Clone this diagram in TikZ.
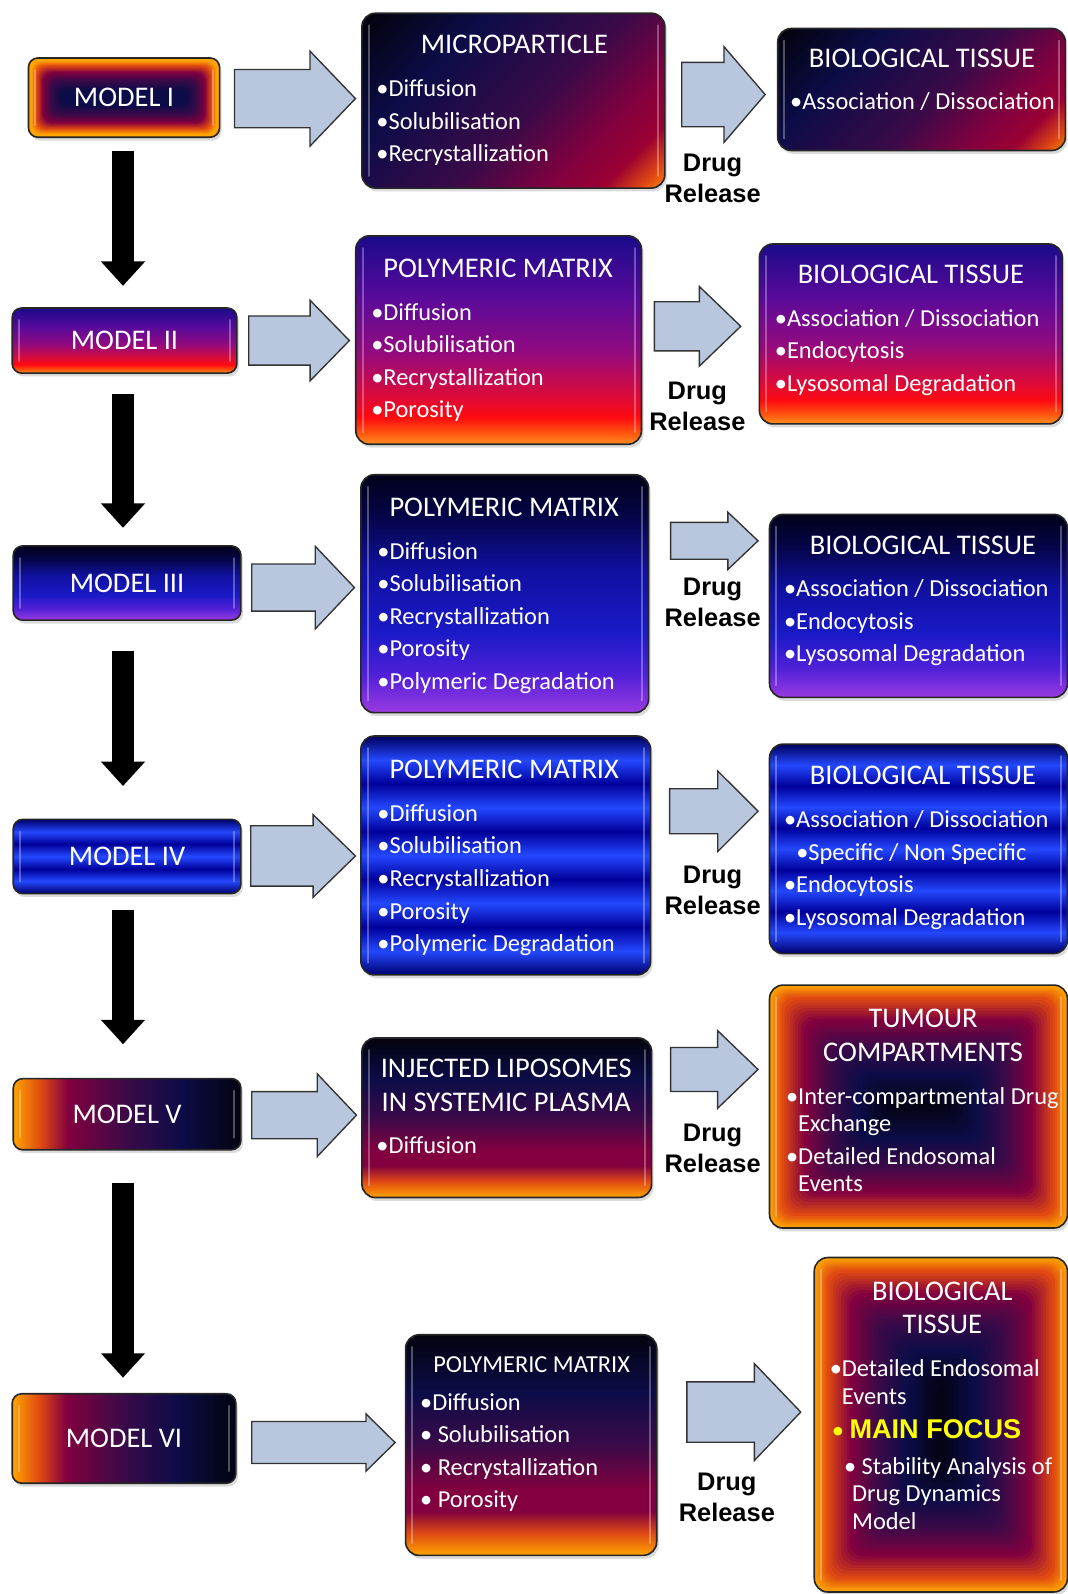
\documentclass[tikz,border=0pt]{standalone}
\usepackage{fontspec}
\setmainfont{Carlito}
\newfontfamily\arialfont{Liberation Sans}
\usetikzlibrary{shapes.arrows,shadows,arrows.meta}

% palette
\definecolor{fblack}{HTML}{03030F}
\definecolor{fnavy}{HTML}{0C0C48}
\definecolor{fpurple}{HTML}{3A0A48}
\definecolor{fcrim}{HTML}{82003F}
\definecolor{fred}{HTML}{E04A12}
\definecolor{forange}{HTML}{FFA400}
\definecolor{vr0}{HTML}{1A0A8A}
\definecolor{vr1}{HTML}{5A0A9A}
\definecolor{vr2}{HTML}{900A80}
\definecolor{vr3}{HTML}{D50A40}
\definecolor{vr4}{HTML}{FF0A10}
\definecolor{vr5}{HTML}{FF5A10}
\definecolor{vr6}{HTML}{FF9020}
\definecolor{nb0}{HTML}{00001A}
\definecolor{nb1}{HTML}{05054A}
\definecolor{nb2}{HTML}{1010A0}
\definecolor{nb3}{HTML}{1A1AC8}
\definecolor{nb4}{HTML}{5020D8}
\definecolor{nb5}{HTML}{9A3AE0}
\definecolor{sd}{HTML}{00009A}
\definecolor{sb}{HTML}{2448FF}
\definecolor{arrowfill}{HTML}{B8C6DE}
\definecolor{focus}{HTML}{FFFF00}

% linear fades
\pgfdeclarehorizontalshading{firediag}{100bp}{color(0bp)=(fblack); color(16bp)=(fblack); color(33bp)=(fnavy); color(54bp)=(fpurple); color(68bp)=(fcrim); color(76bp)=(fcrim!80!red); color(82bp)=(fred); color(87bp)=(forange); color(100bp)=(forange)}
\pgfdeclarehorizontalshading{fireside}{100bp}{color(0bp)=(forange); color(25bp)=(forange); color(31bp)=(fred); color(37bp)=(fcrim); color(50bp)=(fpurple); color(62bp)=(fnavy); color(75bp)=(fblack); color(100bp)=(fblack)}
\pgfdeclareverticalshading{firedown}{100bp}{color(0bp)=(forange); color(25bp)=(forange); color(30bp)=(fred); color(35bp)=(fcrim); color(40bp)=(fcrim); color(50bp)=(fpurple); color(62bp)=(fnavy); color(75bp)=(fblack); color(100bp)=(fblack)}
\pgfdeclareverticalshading{violetred}{100bp}{color(0bp)=(vr6); color(25bp)=(vr6); color(27.5bp)=(vr5); color(31.5bp)=(vr4); color(37.5bp)=(vr3); color(47.5bp)=(vr2); color(60bp)=(vr1); color(75bp)=(vr0); color(100bp)=(vr0)}
\pgfdeclareverticalshading{navyviolet}{100bp}{color(0bp)=(nb5); color(25bp)=(nb5); color(33bp)=(nb4); color(42bp)=(nb3); color(55bp)=(nb2); color(66bp)=(nb1); color(75bp)=(nb0); color(100bp)=(nb0)}
\pgfdeclareverticalshading{stripesmall}{100bp}{color(0bp)=(sd!70!black); color(25bp)=(sd!70!black); color(33.5bp)=(sb); color(41.5bp)=(sd); color(50bp)=(sb); color(58.5bp)=(sd); color(66.5bp)=(sb); color(75bp)=(sd!70!black); color(100bp)=(sd!70!black)}
\pgfdeclareverticalshading{stripebig}{100bp}{color(0bp)=(sd!70!black); color(25bp)=(sd!70!black); color(30bp)=(sb); color(35bp)=(sd); color(40bp)=(sb); color(45bp)=(sd); color(50bp)=(sb); color(55bp)=(sd); color(60bp)=(sb); color(65bp)=(sd); color(70bp)=(sb); color(75bp)=(sd!60!black); color(100bp)=(sd!60!black)}

% rectangular glow: nested insets from the rim to the centre
\def\glowlistA{forange/forange/0/0.07, forange/fred/0.07/0.2, fred/fcrim/0.2/0.36, fcrim/fpurple/0.36/0.56, fpurple/fnavy/0.56/0.8, fnavy/fnavy/0.8/1}
\def\glowlistB{forange/fred/0/0.1, fred/fcrim/0.1/0.28, fcrim/fpurple/0.28/0.5, fpurple/fnavy/0.5/0.72, fnavy/fblack/0.72/1}
\newcommand\glowbody[1]{%
  \pgfpointdiff{\pgfpointanchor{path picture bounding box}{south west}}{\pgfpointanchor{path picture bounding box}{north east}}%
  \pgfgetlastxy{\gw}{\gh}%
  \pgfmathsetmacro\hm{min(abs(\gw),abs(\gh))/2}%
  \foreach \a/\b/\fa/\fb in #1{%
    \foreach \k in {0,...,7}{%
      \pgfmathsetmacro\d{(\fa+(\fb-\fa)*\k/8)*\hm}%
      \pgfmathtruncatemacro\p{100-100*\k/8}%
      \fill[\a!\p!\b] ([shift={(\d pt,\d pt)}]path picture bounding box.south west) rectangle ([shift={(-\d pt,-\d pt)}]path picture bounding box.north east);
    }%
  }%
}
% glossy side streaks
\newcommand\gloss{%
  \draw[white, opacity=.3, line width=1.5pt, line cap=round]
    ([shift={(5pt,-9pt)}]path picture bounding box.north west) -- ([shift={(5pt,9pt)}]path picture bounding box.south west)
    ([shift={(-5pt,-9pt)}]path picture bounding box.north east) -- ([shift={(-5pt,9pt)}]path picture bounding box.south east);}

\newcommand\rows[1]{\begin{tabular}[t]{@{}l@{}}#1\end{tabular}}
\newcommand\crows[1]{\begin{tabular}[t]{@{}c@{}}#1\end{tabular}}

\tikzset{
  bx/.style 2 args={minimum width=#1*0.75pt, minimum height=#2*0.75pt},
  panel/.style={draw=black!85, line width=1.2pt, rounded corners=10pt, inner sep=0pt, text=white,
    drop shadow={opacity=0.28, shadow xshift=1.5pt, shadow yshift=-2.5pt}},
  mbox/.style={panel, rounded corners=7pt, font=\fontsize{21}{25}\selectfont},
  glowA/.style={path picture={\glowbody{\glowlistA}\gloss}},
  glowB/.style={path picture={\glowbody{\glowlistB}\gloss}},
  fade/.style={shading=#1, path picture={\gloss}},
  ttl/.style={text=white, font=\fontsize{21}{24.75}\selectfont, inner sep=0pt, anchor=base},
  lst/.style={text=white, font=\fontsize{18}{24}\selectfont, inner sep=0pt, anchor=base west},
  rel/.style={font=\arialfont\bfseries\fontsize{18.75}{22.875}\selectfont, inner sep=0pt, anchor=base},
  % length, shaft width, head extend, tip angle; placed by its tail
  barrow/.style n args={4}{single arrow, draw=black!80, line width=1pt, fill=arrowfill, inner sep=0pt,
    anchor=tail, single arrow head indent=0pt, minimum height=#1, text height=#2, text depth=0pt,
    single arrow head extend=#3, single arrow tip angle=#4},
  vdown/.style={line width=16.5pt, -{Triangle[width=31.5pt,length=18pt]}},
}

\begin{document}
\begin{tikzpicture}[x=0.75pt, y=-0.75pt]
\fill[white] (0,0) rectangle (1050,1568);
\useasboundingbox (0,0) rectangle (1050,1568);

% ---- model column
\node[mbox, glowA, bx={188}{78}] (m1) at (122,96) {MODEL I};
\node[mbox, fade=violetred, bx={221}{64}] (m2) at (122.5,335) {MODEL II};
\node[mbox, fade=navyviolet, bx={224}{73}] (m3) at (125,573.5) {MODEL III};
\node[mbox, fade=stripesmall, bx={224}{73}] (m4) at (125,842.5) {MODEL IV};
\node[mbox, fade=fireside, bx={224}{70}] (m5) at (125,1096) {MODEL V};
\node[mbox, fade=fireside, bx={220}{88}] (m6) at (122,1415) {MODEL VI};

% ---- carrier column
\node[panel, fade=firediag, shading angle=-45, bx={298}{172}] (mp1) at (505,99) {};
\node[panel, fade=violetred, bx={281}{205}] (pm2) at (490.5,334.5) {};
\node[panel, fade=navyviolet, bx={283}{234}] (pm3) at (496.5,584) {};
\node[panel, fade=stripebig, bx={285}{235}] (pm4) at (497.5,841.5) {};
\node[panel, fade=firedown, bx={285}{157}] (lp5) at (498.5,1099.5) {};
\node[panel, fade=firedown, bx={247}{217}] (pm6) at (522.5,1421.5) {};

% ---- tissue column
\node[panel, fade=firediag, shading angle=-45, bx={283}{120}] (bt1) at (906.5,88) {};
\node[panel, fade=violetred, bx={298}{177}] (bt2) at (896,328.5) {};
\node[panel, fade=navyviolet, bx={293}{180}] (bt3) at (903.5,596) {};
\node[panel, fade=stripebig, bx={293}{206}] (bt4) at (903.5,835) {};
\node[panel, glowB, bx={293}{239}] (tc5) at (903.5,1088.5) {};
\node[panel, glowB, bx={249}{329}] (bt6) at (925.5,1401.5) {};

% ---- texts of the carriers
\node[ttl] (mp1t) at (506,53) {MICROPARTICLE};
\node[lst] (mp1l) at (370,95) {\rows{•Diffusion\\•Solubilisation\\•Recrystallization}};
\node[ttl] (pm2t) at (490,273) {POLYMERIC MATRIX};
\node[lst] (pm2l) at (365,315) {\rows{•Diffusion\\•Solubilisation\\•Recrystallization\\•Porosity}};
\node[ttl] (pm3t) at (496,508) {POLYMERIC MATRIX};
\node[lst] (pm3l) at (371,550) {\rows{•Diffusion\\•Solubilisation\\•Recrystallization\\•Porosity\\•Polymeric Degradation}};
\node[ttl] (pm4t) at (496,766) {POLYMERIC MATRIX};
\node[lst] (pm4l) at (371,808) {\rows{•Diffusion\\•Solubilisation\\•Recrystallization\\•Porosity\\•Polymeric Degradation}};
\node[ttl] (lp5t) at (498,1060) {\crows{INJECTED LIPOSOMES\\IN SYSTEMIC PLASMA}};
\node[lst] (lp5l) at (370,1135) {•Diffusion};
\node[ttl, font=\fontsize{18}{24}\selectfont] (pm6t) at (523,1350) {POLYMERIC MATRIX};
\node[lst] (pm6l) at (413,1387) {\rows{•Diffusion\\• Solubilisation\\• Recrystallization\\• Porosity}};

% ---- texts of the tissues
\node[ttl] (bt1t) at (907,66) {BIOLOGICAL TISSUE};
\node[lst] (bt1l) at (777,108) {•Association / Dissociation};
\node[ttl] (bt2t) at (896,279) {BIOLOGICAL TISSUE};
\node[lst] (bt2l) at (762,321) {\rows{•Association / Dissociation\\•Endocytosis\\•Lysosomal Degradation}};
\node[ttl] (bt3t) at (908,545) {BIOLOGICAL TISSUE};
\node[lst] (bt3l) at (771,587) {\rows{•Association / Dissociation\\•Endocytosis\\•Lysosomal Degradation}};
\node[ttl] (bt4t) at (908,772) {BIOLOGICAL TISSUE};
\node[lst] (bt4l) at (771,814) {\rows{•Association / Dissociation\\\hspace*{9pt}•Specific / Non Specific\\•Endocytosis\\•Lysosomal Degradation}};
\node[ttl] (tc5t) at (908,1011) {\crows{TUMOUR\\COMPARTMENTS}};
\node[lst, font=\fontsize{18}{20.25}\selectfont] (tc5l) at (773,1086) {\rows{•Inter-compartmental Drug\\\hphantom{•}Exchange\\[3.75pt]•Detailed Endosomal\\\hphantom{•}Events}};
\node[ttl] (bt6t) at (927,1279) {\crows{BIOLOGICAL\\TISSUE}};
\node[lst, font=\fontsize{18}{21}\selectfont] (bt6a) at (816,1354) {\rows{•Detailed Endosomal\\\hphantom{•}Events}};
\node[lst, text=focus] (bt6f) at (818,1415) {• {\arialfont\bfseries\fontsize{20}{24}\selectfont MAIN FOCUS}};
\node[lst, font=\fontsize{18}{20.6}\selectfont] (bt6b) at (830,1450) {\rows{• Stability Analysis of\\\hspace*{6pt}Drug Dynamics\\\hspace*{6pt}Model}};

% ---- block arrows from models to carriers
\node[barrow={89.25pt}{42pt}{13.5pt}{92.5}] (fa1) at (230,97) {};
\node[barrow={74.25pt}{35.25pt}{11.6pt}{91.5}] (fa2) at (244,335) {};
\node[barrow={75.75pt}{33.75pt}{13.1pt}{93}] (fa3) at (247,578) {};
\node[barrow={77.25pt}{43.5pt}{8.25pt}{88.6}] (fa4) at (246,842) {};
\node[barrow={77.25pt}{33.75pt}{13.1pt}{93}] (fa5) at (247,1097) {};
\node[barrow={105.75pt}{30pt}{5.6pt}{89}] (fa6) at (247,1419) {};

% ---- drug release arrows from carriers to tissues
\node[barrow={61.5pt}{46.5pt}{11.6pt}{98.6}] (sa1) at (670,93) {};
\node[barrow={63.75pt}{35.25pt}{11.25pt}{87.8}] (sa2) at (643,321) {};
\node[barrow={64.5pt}{26.25pt}{7.5pt}{87}] (sa3) at (659,532) {};
\node[barrow={65.25pt}{32.25pt}{13.1pt}{90}] (sa4) at (658,798) {};
\node[barrow={64.5pt}{31.5pt}{12.4pt}{87.7}] (sa5) at (659,1052) {};
\node[barrow={84pt}{43.5pt}{13.5pt}{92.5}] (sa6) at (675,1389) {};

\node[rel] (dr1) at (701,168.5) {\crows{Drug\\Release}};
\node[rel] (dr2) at (686,392.5) {\crows{Drug\\Release}};
\node[rel] (dr3) at (701,585.5) {\crows{Drug\\Release}};
\node[rel] (dr4) at (701,869.5) {\crows{Drug\\Release}};
\node[rel] (dr5) at (701,1122.5) {\crows{Drug\\Release}};
\node[rel] (dr6) at (715,1466.5) {\crows{Drug\\Release}};

% ---- progression between models
\coordinate (vx) at (121,0);
\draw[vdown, shorten <=9.75pt, shorten >=15.75pt] (m1.south -| vx) -- (m2.north -| vx);
\draw[vdown, shorten <=15pt, shorten >=12.75pt] (m2.south -| vx) -- (m3.north -| vx);
\draw[vdown, shorten <=22.5pt, shorten >=24pt] (m3.south -| vx) -- (m4.north -| vx);
\draw[vdown, shorten <=11.25pt, shorten >=24.75pt] (m4.south -| vx) -- (m5.north -| vx);
\draw[vdown, shorten <=24pt, shorten >=11.25pt] (m5.south -| vx) -- (m6.north -| vx);
\end{tikzpicture}
\end{document}
